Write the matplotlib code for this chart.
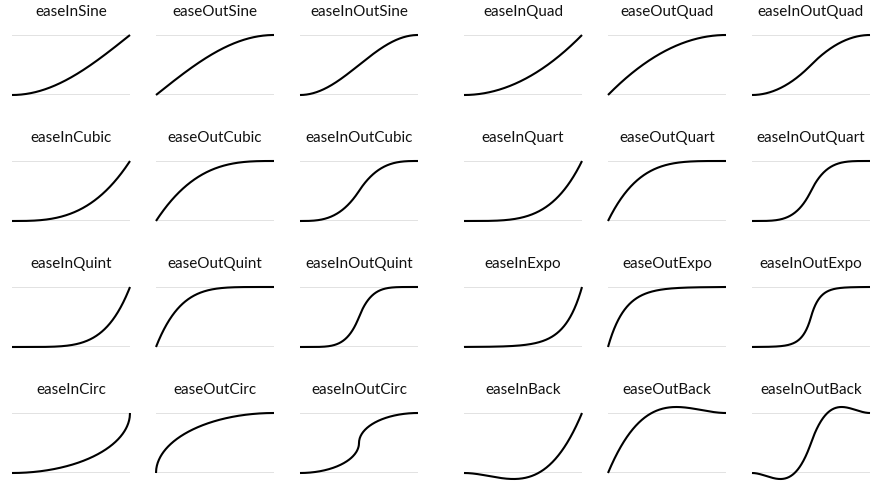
import numpy as np
import matplotlib
matplotlib.use('Agg')
import matplotlib.pyplot as plt

plt.rcParams['font.family'] = ['Lato', 'DejaVu Sans']

families = ['Sine', 'Quad', 'Cubic', 'Quart', 'Quint', 'Expo', 'Circ', 'Back']
kinds = ['In', 'Out', 'InOut']

c1 = 1.70158
c2 = c1 * 1.525
c3 = c1 + 1


def ease_in(fam, t):
    if fam == 'Sine':
        return 1 - np.cos(t * np.pi / 2)
    if fam in ('Quad', 'Cubic', 'Quart', 'Quint'):
        p = {'Quad': 2, 'Cubic': 3, 'Quart': 4, 'Quint': 5}[fam]
        return t ** p
    if fam == 'Expo':
        return np.where(t == 0, 0, 2 ** (10 * t - 10))
    if fam == 'Circ':
        return 1 - np.sqrt(np.clip(1 - t ** 2, 0, None))
    if fam == 'Back':
        return c3 * t ** 3 - c1 * t ** 2


def ease(fam, kind, t):
    if kind == 'In':
        return ease_in(fam, t)
    if kind == 'Out':
        return 1 - ease_in(fam, 1 - t)
    if fam == 'Back':
        a = ((2 * t) ** 2 * ((c2 + 1) * 2 * t - c2)) / 2
        b = ((2 * t - 2) ** 2 * ((c2 + 1) * (t * 2 - 2) + c2) + 2) / 2
        return np.where(t < 0.5, a, b)
    return np.where(t < 0.5, ease_in(fam, 2 * t) / 2,
                    1 - ease_in(fam, 2 - 2 * t) / 2)


W, H = 874, 492
fig = plt.figure(figsize=(W / 100, H / 100), dpi=100)

col_x = [12, 156, 300, 464, 608, 752]
row_y = [35, 161, 287, 413]
cw, ch = 118, 60

t = np.linspace(0, 1, 400)
for i, fam in enumerate(families):
    r = i // 2
    for k, kind in enumerate(kinds):
        c = (i % 2) * 3 + k
        x0, y0 = col_x[c], row_y[r]
        ax = fig.add_axes([x0 / W, 1 - (y0 + ch) / H, cw / W, ch / H])
        ax.set_xlim(0, 1)
        ax.set_ylim(0, 1)
        ax.axis('off')
        ax.axhline(0, color='#dddddd', lw=1.2, zorder=1)
        ax.axhline(1, color='#dddddd', lw=1.2, zorder=1)
        ax.plot(t, ease(fam, kind, t), color='black', lw=1.5,
                clip_on=False, zorder=2, solid_capstyle='butt')
        fig.text((x0 + cw / 2) / W, 1 - (y0 - 23) / H, 'ease' + kind + fam,
                 ha='center', va='center', fontsize=11, color='#111111')

fig.savefig('out.png', dpi=100)
